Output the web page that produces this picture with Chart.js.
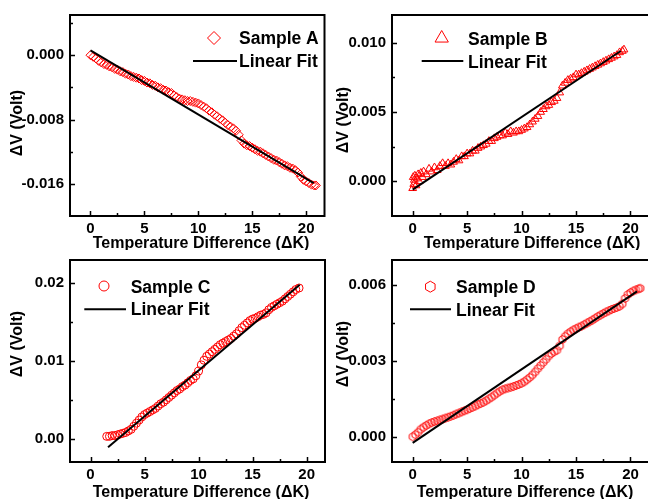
<!DOCTYPE html>
<html><head><meta charset="utf-8">
<script src="https://cdn.jsdelivr.net/npm/chart.js@4.4.0/dist/chart.umd.min.js"></script>
<style>
html,body{margin:0;padding:0;background:#fff;overflow:hidden;width:648px;height:499px;position:relative;}
canvas{position:absolute;}
</style></head><body>
<canvas id="cA" width="330" height="250" style="left:0;top:0"></canvas>
<canvas id="cB" width="335" height="250" style="left:325px;top:0"></canvas>
<canvas id="cC" width="330" height="254" style="left:0;top:245px"></canvas>
<canvas id="cD" width="335" height="254" style="left:325px;top:245px"></canvas>
<script>
// ---------- data ----------
const tempA = [0,0.25,0.5,0.75,1,1.25,1.5,1.75,2,2.25,2.5,2.75,3,3.25,3.5,3.75,4,4.25,4.5,4.75,5,5.25,5.5,5.75,6,6.25,6.5,6.75,7,7.25,7.5,7.75,8,8.25,8.5,8.75,9,9.25,9.5,9.75,10,10.25,10.5,10.75,11,11.25,11.5,11.75,12,12.25,12.5,12.75,13,13.25,13.5,13.75,14,14.25,14.5,14.75,15,15.25,15.5,15.75,16,16.25,16.5,16.75,17,17.25,17.5,17.75,18,18.25,18.5,18.75,19,19.25,19.5,19.75,20,20.25,20.5,20.75,20.9];
const voltA = [0,-0.0002,-0.0004,-0.0007,-0.0009,-0.0011,-0.0012,-0.0014,-0.0015,-0.0017,-0.0018,-0.0020,-0.0021,-0.0023,-0.0024,-0.0026,-0.0027,-0.0028,-0.0029,-0.0031,-0.0032,-0.0034,-0.0035,-0.0037,-0.0038,-0.0040,-0.0041,-0.0043,-0.0044,-0.0046,-0.0047,-0.0050,-0.0052,-0.0054,-0.0055,-0.0056,-0.0057,-0.0057,-0.0058,-0.0059,-0.0060,-0.0062,-0.0064,-0.0066,-0.0069,-0.0071,-0.0074,-0.0076,-0.0079,-0.0081,-0.0084,-0.0087,-0.0089,-0.0091,-0.0094,-0.0099,-0.0106,-0.0110,-0.0112,-0.0113,-0.0115,-0.0117,-0.0119,-0.0120,-0.0122,-0.0124,-0.0126,-0.0128,-0.0130,-0.0131,-0.0133,-0.0135,-0.0137,-0.0138,-0.0140,-0.0141,-0.0143,-0.0146,-0.0151,-0.0155,-0.0157,-0.0159,-0.0161,-0.0162,-0.0162];
const fitTempA = [0, 20.7];
const fitVoltA = [0.0006, -0.0159];

const tempB = [0,0.05,0.1,0.15,0.2,0.3,0.4,0.5,0.6,0.75,0.9,1,1.25,1.5,1.75,2,2.25,2.5,2.75,3,3.25,3.5,3.75,4,4.25,4.5,4.75,5,5.25,5.5,5.75,6,6.25,6.5,6.75,7,7.25,7.5,7.75,8,8.25,8.5,8.75,9,9.25,9.5,9.75,10,10.25,10.5,10.75,11,11.25,11.5,11.75,12,12.25,12.5,12.75,13,13.25,13.5,13.75,14,14.25,14.5,14.75,15,15.25,15.5,15.75,16,16.25,16.5,16.75,17,17.25,17.5,17.75,18,18.25,18.5,18.75,19,19.25,19.4];
const voltB = [-0.0005,0.0003,-0.0002,0.0001,0.0004,-0.0003,0.0002,0.0005,0.0000,0.0006,0.0003,0.0007,0.0005,0.0009,0.0007,0.0010,0.0008,0.0011,0.0013,0.0011,0.0013,0.0012,0.0014,0.0016,0.0015,0.0018,0.0018,0.0020,0.0020,0.0022,0.0022,0.0024,0.0025,0.0026,0.0027,0.0029,0.0029,0.0031,0.0032,0.0033,0.0033,0.0035,0.0034,0.0036,0.0035,0.0036,0.0036,0.0037,0.0038,0.0039,0.0041,0.0043,0.0045,0.0047,0.0050,0.0052,0.0054,0.0055,0.0057,0.0058,0.0060,0.0064,0.0069,0.0071,0.0073,0.0074,0.0075,0.0077,0.0077,0.0078,0.0079,0.0080,0.0081,0.0082,0.0083,0.0084,0.0085,0.0086,0.0087,0.0088,0.0089,0.0090,0.0091,0.0093,0.0094,0.0095];
const fitTempB = [0, 19.1];
const fitVoltB = [-0.0006, 0.0094];

const tempC = [1.5,1.75,2,2.25,2.5,2.75,3,3.25,3.5,3.75,4,4.25,4.5,4.75,5,5.25,5.5,5.75,6,6.25,6.5,6.75,7,7.25,7.5,7.75,8,8.25,8.5,8.75,9,9.25,9.5,9.75,10,10.25,10.5,10.75,11,11.25,11.5,11.75,12,12.25,12.5,12.75,13,13.25,13.5,13.75,14,14.25,14.5,14.75,15,15.25,15.5,15.75,16,16.25,16.5,16.75,17,17.25,17.5,17.75,18,18.25,18.5,18.75,19,19.3];
const voltC = [0.0003,0.0003,0.0004,0.0004,0.0005,0.0006,0.0007,0.0008,0.0010,0.0012,0.0016,0.0020,0.0024,0.0028,0.0031,0.0033,0.0035,0.0037,0.0039,0.0042,0.0045,0.0047,0.0050,0.0053,0.0056,0.0059,0.0062,0.0064,0.0067,0.0069,0.0072,0.0075,0.0077,0.0081,0.0087,0.0095,0.0101,0.0106,0.0109,0.0112,0.0115,0.0118,0.0121,0.0123,0.0125,0.0127,0.0129,0.0132,0.0135,0.0139,0.0143,0.0146,0.0149,0.0152,0.0154,0.0155,0.0157,0.0159,0.0160,0.0162,0.0166,0.0169,0.0171,0.0173,0.0175,0.0177,0.0180,0.0183,0.0186,0.0189,0.0192,0.0194];
const fitTempC = [1.62, 19.36];
const fitVoltC = [-0.0011, 0.0198];

const tempD = [0,0.25,0.5,0.75,1,1.25,1.5,1.75,2,2.25,2.5,2.75,3,3.25,3.5,3.75,4,4.25,4.5,4.75,5,5.25,5.5,5.75,6,6.25,6.5,6.75,7,7.25,7.5,7.75,8,8.25,8.5,8.75,9,9.25,9.5,9.75,10,10.25,10.5,10.75,11,11.25,11.5,11.75,12,12.25,12.5,12.75,13,13.25,13.5,13.75,14,14.25,14.5,14.75,15,15.25,15.5,15.75,16,16.25,16.5,16.75,17,17.25,17.5,17.75,18,18.25,18.5,18.75,19,19.25,19.5,19.75,20,20.25,20.5,20.75,20.9];
const voltD = [0,0.00008,0.00018,0.0003,0.00038,0.00045,0.00051,0.00056,0.0006,0.00063,0.00067,0.0007,0.00074,0.00077,0.00081,0.00085,0.0009,0.00094,0.00099,0.00103,0.00107,0.00112,0.00117,0.00122,0.00127,0.00132,0.00137,0.00143,0.0015,0.00157,0.00165,0.00173,0.0018,0.00186,0.0019,0.00193,0.00196,0.00199,0.00203,0.00207,0.00212,0.00218,0.00226,0.00235,0.00245,0.00257,0.0027,0.00282,0.00295,0.00307,0.0032,0.0033,0.00337,0.00343,0.0036,0.00385,0.00398,0.00408,0.00416,0.00423,0.00428,0.00434,0.00438,0.00444,0.0045,0.00456,0.00462,0.00469,0.00476,0.00482,0.00488,0.00494,0.00499,0.00504,0.00508,0.00512,0.00517,0.00526,0.00548,0.00563,0.00571,0.00577,0.00582,0.00586,0.00588];
const fitTempD = [0, 20.6];
const fitVoltD = [-0.00024, 0.00576];

// tick values / labels
const xTicks = [0, 5, 10, 15, 20];
const xMinor = [2.5, 7.5, 12.5, 17.5];
const yTicksA = [-0.016, -0.008, 0];      const yMinorA = [-0.020, -0.012, -0.004, 0.004];
const yTicksB = [0, 0.005, 0.010];        const yMinorB = [-0.0025, 0.0025, 0.0075];
const yTicksC = [0, 0.01, 0.02];          const yMinorC = [0.005, 0.015];
const yTicksD = [0, 0.003, 0.006];        const yMinorD = [0.0015, 0.0045];
const sampleNames = ['Sample A', 'Sample B', 'Sample C', 'Sample D'];
const fitName = 'Linear Fit';
const xTitle = 'Temperature Difference (\u0394K)';
const yTitle = '\u0394V (Volt)';

// ---------- styling / drawing ----------
const RED = '#ff0000';
const FONT = '"Liberation Sans", Arial, sans-serif';

function hexPath(g, cx, cy, r) {
  g.beginPath();
  for (let k = 0; k < 6; k++) {
    const a = Math.PI / 180 * (60 * k - 90);
    const px = cx + r * Math.cos(a), py = cy + r * Math.sin(a);
    if (k) g.lineTo(px, py); else g.moveTo(px, py);
  }
  g.closePath();
}
function markerPath(g, style, x, y, r) {
  g.beginPath();
  if (style === 'rectRot') {
    g.moveTo(x, y - r); g.lineTo(x + r, y); g.lineTo(x, y + r); g.lineTo(x - r, y); g.closePath();
  } else if (style === 'triangle') {
    g.moveTo(x, y - r); g.lineTo(x + r * 0.95, y + r * 0.65); g.lineTo(x - r * 0.95, y + r * 0.65); g.closePath();
  } else if (style === 'circle') {
    g.arc(x, y, r, 0, Math.PI * 2);
  } else {
    hexPath(g, x, y, r);
  }
}
function hexImage(r) {
  const c = document.createElement('canvas');
  const s = Math.ceil(2 * r + 3);
  c.width = s; c.height = s;
  const g = c.getContext('2d');
  g.strokeStyle = RED; g.lineWidth = 1;
  hexPath(g, s / 2, s / 2, r); g.stroke();
  return c;
}

const decoPlugin = {
  id: 'deco',
  afterDraw(chart) {
    const o = chart.options.plugins.deco;
    const ctx = chart.ctx;
    const { left, right, top, bottom } = chart.chartArea;
    const xs = chart.scales.x, ys = chart.scales.y;
    ctx.save();
    ctx.strokeStyle = '#000';
    ctx.lineWidth = 2;
    ctx.strokeRect(left, top, right - left, bottom - top);
    ctx.lineWidth = 1.5;
    ctx.beginPath();
    xTicks.forEach(v => { const p = Math.round(xs.getPixelForValue(v)) + 0.5; ctx.moveTo(p, bottom); ctx.lineTo(p, bottom - 5); });
    xMinor.forEach(v => { const p = Math.round(xs.getPixelForValue(v)) + 0.5; ctx.moveTo(p, bottom); ctx.lineTo(p, bottom - 3); });
    o.yMajor.forEach(v => { const p = Math.round(ys.getPixelForValue(v)) + 0.5; ctx.moveTo(left, p); ctx.lineTo(left + 5, p); });
    o.yMinor.forEach(v => { const p = Math.round(ys.getPixelForValue(v)) + 0.5; if (p > top + 2 && p < bottom - 2) { ctx.moveTo(left, p); ctx.lineTo(left + 3, p); } });
    ctx.stroke();

    const ox = o.ox, oy = o.oy;
    // legend
    ctx.strokeStyle = RED; ctx.lineWidth = 1;
    markerPath(ctx, o.style, o.mk[0] - ox, o.mk[1] - oy, o.mkR);
    ctx.stroke();
    ctx.strokeStyle = '#000'; ctx.lineWidth = 2;
    ctx.beginPath(); ctx.moveTo(o.ln[0] - ox, o.ln[2] - oy); ctx.lineTo(o.ln[1] - ox, o.ln[2] - oy); ctx.stroke();
    ctx.fillStyle = '#000';
    ctx.font = 'bold 17.5px ' + FONT;
    ctx.textAlign = 'left'; ctx.textBaseline = 'alphabetic';
    ctx.fillText(o.name, o.tx - ox, o.b1 - oy);
    ctx.fillText(fitName, o.tx - ox, o.b2 - oy);
    // x title
    ctx.font = 'bold 16px ' + FONT;
    ctx.textAlign = 'center';
    ctx.fillText(xTitle, o.xt[0] - ox, o.xt[1] - oy);
    // y title
    ctx.save();
    ctx.translate(o.yt[0] - ox, o.yt[1] - oy);
    ctx.rotate(-Math.PI / 2);
    ctx.textBaseline = 'middle';
    ctx.fillText(yTitle, 0, 0);
    ctx.restore();
    ctx.restore();
  }
};

function pts(xs, ys) { return xs.map((t, i) => ({ x: t, y: ys[i] })); }

function makePanel(id, cfg) {
  new Chart(document.getElementById(id), {
    type: 'scatter',
    data: {
      datasets: [
        { data: pts(cfg.fitX, cfg.fitY), showLine: true, borderColor: '#000', borderWidth: 2, pointRadius: 0, order: 0 },
        { data: pts(cfg.x, cfg.y), showLine: false, pointStyle: cfg.pointStyle, pointRadius: cfg.r,
          borderColor: RED, backgroundColor: 'rgba(0,0,0,0)', pointBorderWidth: 1, order: 1 }
      ]
    },
    options: {
      responsive: false, animation: false, devicePixelRatio: 1,
      events: [],
      layout: { padding: { left: 0, top: cfg.padTop, right: cfg.padRight, bottom: 0 } },
      plugins: {
        legend: { display: false }, tooltip: { enabled: false },
        deco: cfg.deco
      },
      scales: {
        x: {
          type: 'linear', min: -1.9, max: 21.7,
          grid: { display: false, drawTicks: false }, border: { display: false },
          afterBuildTicks: s => { s.ticks = xTicks.map(v => ({ value: v })); },
          afterFit: s => { s.height = cfg.xH; },
          ticks: { padding: 4, color: '#000', autoSkip: false, maxRotation: 0,
                   font: { family: FONT, size: 15, weight: 'bold' }, callback: v => String(v) }
        },
        y: {
          type: 'linear', min: cfg.yMin, max: cfg.yMax,
          grid: { display: false, drawTicks: false }, border: { display: false },
          afterBuildTicks: s => { s.ticks = cfg.deco.yMajor.map(v => ({ value: v })); },
          afterFit: s => { s.width = cfg.yW; },
          ticks: { padding: 6, color: '#000', autoSkip: false,
                   font: { family: FONT, size: 15, weight: 'bold' }, callback: v => Number(v).toFixed(cfg.dec) }
        }
      }
    },
    plugins: [decoPlugin]
  });
}

makePanel('cA', {
  x: tempA, y: voltA, fitX: fitTempA, fitY: fitVoltA, pointStyle: 'rectRot', r: 4.5,
  yMin: -0.020, yMax: 0.005, dec: 3, padTop: 14, padRight: 3, yW: 70, xH: 34,
  deco: { ox: 0, oy: 0, yMajor: yTicksA, yMinor: yMinorA, style: 'rectRot', mk: [214, 38], mkR: 6.5,
          ln: [193, 237, 61], tx: 239, b1: 44, b2: 67, name: sampleNames[0], xt: [201, 248], yt: [18, 123] }
});
makePanel('cB', {
  x: tempB, y: voltB, fitX: fitTempB, fitY: fitVoltB, pointStyle: 'triangle', r: 4.5,
  yMin: -0.0025, yMax: 0.012, dec: 3, padTop: 14, padRight: 11, yW: 67, xH: 34,
  deco: { ox: 325, oy: 0, yMajor: yTicksB, yMinor: yMinorB, style: 'triangle', mk: [441.7, 37.5], mkR: 7,
          ln: [421.7, 463.3, 61], tx: 468, b1: 45, b2: 67.5, name: sampleNames[1], xt: [532, 248], yt: [344, 120] }
});
makePanel('cC', {
  x: tempC, y: voltC, fitX: fitTempC, fitY: fitVoltC, pointStyle: 'circle', r: 4,
  yMin: -0.003, yMax: 0.023, dec: 2, padTop: 14, padRight: 3, yW: 70, xH: 37,
  deco: { ox: 0, oy: 245, yMajor: yTicksC, yMinor: yMinorC, style: 'circle', mk: [104, 286], mkR: 5,
          ln: [84.3, 126, 309.3], tx: 130.7, b1: 292.7, b2: 315.3, name: sampleNames[2], xt: [201, 496.5], yt: [18, 344] }
});
makePanel('cD', {
  x: tempD, y: voltD, fitX: fitTempD, fitY: fitVoltD, pointStyle: hexImage(4), r: 4,
  yMin: -0.001, yMax: 0.007, dec: 3, padTop: 14, padRight: 11, yW: 67, xH: 37,
  deco: { ox: 325, oy: 245, yMajor: yTicksD, yMinor: yMinorD, style: 'hex', mk: [430.3, 286.7], mkR: 5.5,
          ln: [410, 451, 309.3], tx: 456, b1: 292.7, b2: 315.5, name: sampleNames[3], xt: [525, 496.5], yt: [344, 354] }
});
</script>
</body></html>
